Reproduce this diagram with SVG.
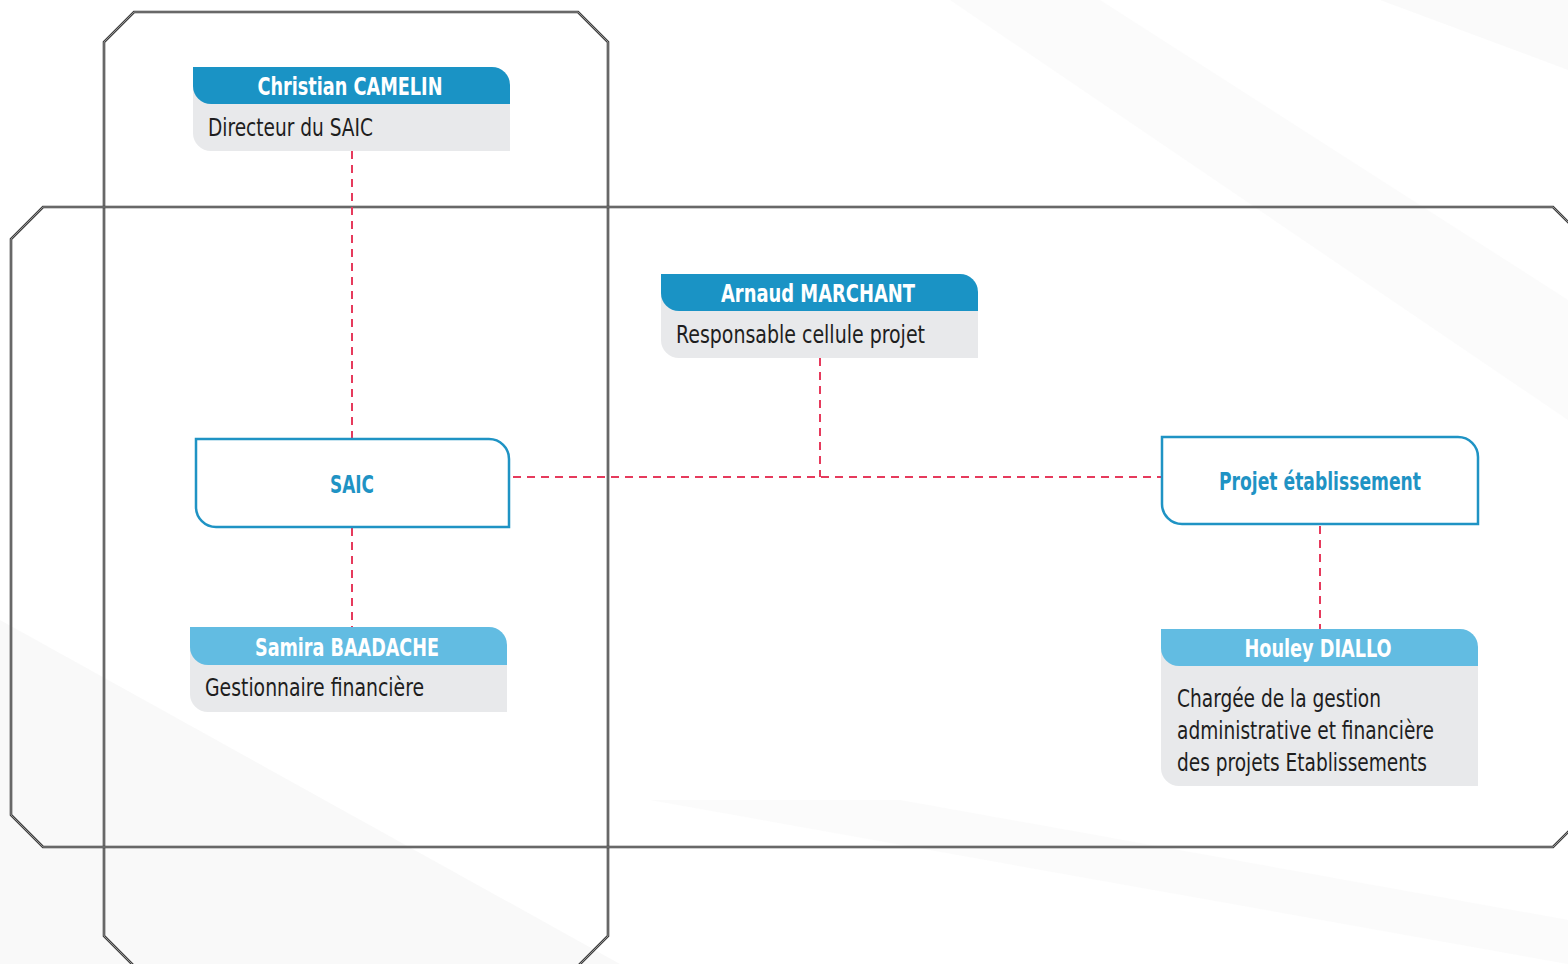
<svg xmlns="http://www.w3.org/2000/svg" width="1568" height="964" viewBox="0 0 1568 964">
  <style>
    .frame { fill: none; stroke: #3e3e3e; stroke-width: 2.6; }
    .frame-in { fill: none; stroke: #a8a8a8; stroke-width: 0.8; }
    .hdr-dark { fill: #1a93c5; }
    .hdr-light { fill: #62bce2; }
    .body { fill: #e8e9eb; }
    .unit { fill: #ffffff; stroke: #1f93c4; stroke-width: 2.5; }
    .name { font-family: "Liberation Sans Narrow", "DejaVu Sans Condensed", "Liberation Sans", sans-serif; font-weight: bold; font-size: 25px; fill: #ffffff; }
    .role { font-family: "Liberation Sans Narrow", "DejaVu Sans Condensed", "Liberation Sans", sans-serif; font-size: 25px; fill: #1e1e1e; }
    .unit-label { font-family: "Liberation Sans Narrow", "DejaVu Sans Condensed", "Liberation Sans", sans-serif; font-weight: bold; font-size: 25px; fill: #1f93c4; }
    .link { fill: none; stroke: #e63a5c; stroke-width: 2; stroke-dasharray: 8 6; }
  </style>

  <!-- background -->
  <rect x="0" y="0" width="1568" height="964" fill="#ffffff"/>
  <polygon points="1100,0 1568,300 1568,420 950,0" fill="#f7f7f7" opacity="0.5"/>
  <polygon points="1380,0 1568,0 1568,70" fill="#f7f7f7" opacity="0.6"/>
  <polygon points="0,560 0,964 620,964 0,620" fill="#f2f2f2" opacity="0.45"/>
  <polygon points="650,800 1568,964 1568,920 900,800" fill="#f8f8f8" opacity="0.5"/>

  <!-- frames -->
  <g id="frame-vertical">
    <polygon class="frame" points="134,12 578,12 608,42 608,936 578,966 134,966 104,936 104,42"/>
    <polygon class="frame-in" points="134,12 578,12 608,42 608,936 578,966 134,966 104,936 104,42"/>
  </g>
  <g id="frame-horizontal">
    <polygon class="frame" points="43,207 1553,207 1585,239 1585,815 1553,847 43,847 11,815 11,239"/>
    <polygon class="frame-in" points="43,207 1553,207 1585,239 1585,815 1553,847 43,847 11,815 11,239"/>
  </g>

  <!-- connectors -->
  <g id="connectors">
    <line class="link" x1="352" y1="151" x2="352" y2="439"/>
    <line class="link" x1="352" y1="528" x2="352" y2="627"/>
    <line class="link" x1="513" y1="477" x2="1162" y2="477"/>
    <line class="link" x1="820" y1="358" x2="820" y2="477"/>
    <line class="link" x1="1320" y1="526" x2="1320" y2="629"/>
  </g>

  <!-- Christian CAMELIN -->
  <g id="node-camelin">
    <path class="body" d="M193,85 H510 V151 H211 A18,18 0 0 1 193,133 Z"/>
    <path class="hdr-dark" d="M193,67 H492 A18,18 0 0 1 510,85 V104 H211 A18,18 0 0 1 193,86 Z"/>
    <text class="name" x="350" y="95" text-anchor="middle" textLength="185" lengthAdjust="spacingAndGlyphs">Christian CAMELIN</text>
    <text class="role" x="208" y="136" textLength="165" lengthAdjust="spacingAndGlyphs">Directeur du SAIC</text>
  </g>

  <!-- Arnaud MARCHANT -->
  <g id="node-marchant">
    <path class="body" d="M661,292 H978 V358 H679 A18,18 0 0 1 661,340 Z"/>
    <path class="hdr-dark" d="M661,274 H960 A18,18 0 0 1 978,292 V311 H679 A18,18 0 0 1 661,293 Z"/>
    <text class="name" x="818" y="302" text-anchor="middle" textLength="194" lengthAdjust="spacingAndGlyphs">Arnaud MARCHANT</text>
    <text class="role" x="676" y="343" textLength="249" lengthAdjust="spacingAndGlyphs">Responsable cellule projet</text>
  </g>

  <!-- SAIC -->
  <g id="node-saic">
    <path class="unit" d="M196,439 H489 A20,20 0 0 1 509,459 V527 H216 A20,20 0 0 1 196,507 Z"/>
    <text class="unit-label" x="352" y="493" text-anchor="middle" textLength="44" lengthAdjust="spacingAndGlyphs">SAIC</text>
  </g>

  <!-- Projet établissement -->
  <g id="node-projet">
    <path class="unit" d="M1162,437 H1458 A20,20 0 0 1 1478,457 V524 H1182 A20,20 0 0 1 1162,504 Z"/>
    <text class="unit-label" x="1320" y="490" text-anchor="middle" textLength="202" lengthAdjust="spacingAndGlyphs">Projet établissement</text>
  </g>

  <!-- Samira BAADACHE -->
  <g id="node-baadache">
    <path class="body" d="M190,645 H507 V712 H208 A18,18 0 0 1 190,694 Z"/>
    <path class="hdr-light" d="M190,627 H489 A18,18 0 0 1 507,645 V665 H208 A18,18 0 0 1 190,647 Z"/>
    <text class="name" x="347" y="656" text-anchor="middle" textLength="184" lengthAdjust="spacingAndGlyphs">Samira BAADACHE</text>
    <text class="role" x="205" y="696" textLength="219" lengthAdjust="spacingAndGlyphs">Gestionnaire financière</text>
  </g>

  <!-- Houley DIALLO -->
  <g id="node-diallo">
    <path class="body" d="M1161,647 H1478 V786 H1179 A18,18 0 0 1 1161,768 Z"/>
    <path class="hdr-light" d="M1161,629 H1460 A18,18 0 0 1 1478,647 V666 H1179 A18,18 0 0 1 1161,648 Z"/>
    <text class="name" x="1318" y="657" text-anchor="middle" textLength="147" lengthAdjust="spacingAndGlyphs">Houley DIALLO</text>
    <text class="role" x="1177" y="707" textLength="204" lengthAdjust="spacingAndGlyphs">Chargée de la gestion</text>
    <text class="role" x="1177" y="739" textLength="257" lengthAdjust="spacingAndGlyphs">administrative et financière</text>
    <text class="role" x="1177" y="771" textLength="250" lengthAdjust="spacingAndGlyphs">des projets Etablissements</text>
  </g>
</svg>
